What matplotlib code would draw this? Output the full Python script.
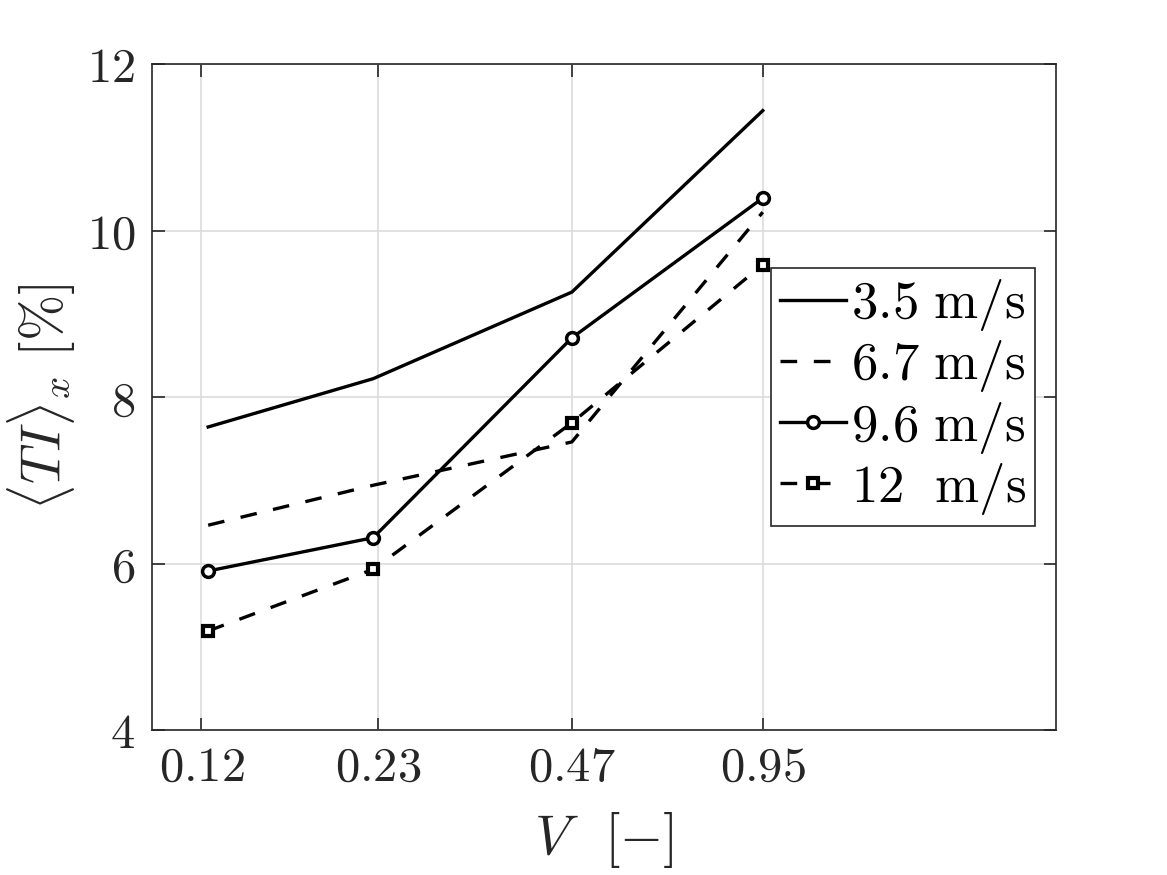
"""
Turbulence intensity versus V for several wind speeds
"""
import numpy as np
import matplotlib
matplotlib.use('Agg')
import matplotlib.pyplot as plt

# Data
V = [0.123, 0.226, 0.47, 0.95]
TI_35 = [7.64, 8.22, 9.26, 11.44]
TI_67 = [6.46, 6.94, 7.46, 10.22]
TI_96 = [5.91, 6.31, 8.71, 10.39]
TI_12 = [5.19, 5.93, 7.69, 9.59]

xticks = [0.12, 0.23, 0.47, 0.95]
xticklabels = ['0.12', '0.23', '0.47', '0.95']
yticks = [4, 6, 8, 10, 12]
labels = [r'$3.5\ \mathrm{m/s}$', r'$6.7\ \mathrm{m/s}$',
          r'$9.6\ \mathrm{m/s}$', r'$12\ \ \mathrm{m/s}$']

# Some settings
plt.rcParams['mathtext.fontset'] = 'cm'
plt.rcParams['font.family'] = 'serif'
txtcol = '#262626'
lw = 2.4
dash = (0, (5.0, 5.0))

fig = plt.figure(figsize=(11.67, 8.75), dpi=100)
ax = fig.add_axes([152/1167, 1 - 730/875, 904/1167, 666/875])

ax.plot(V, TI_35, color='k', lw=lw, label=labels[0])
ax.plot(V, TI_67, color='k', lw=lw, ls=dash, label=labels[1])
ax.plot(V, TI_96, color='k', lw=lw, marker='o', ms=8.5, mew=2.5,
        mfc='white', label=labels[2])
ax.plot(V, TI_12, color='k', lw=lw, ls=dash, marker='s', ms=6.5, mew=3.0,
        mfc='white', label=labels[3])

ax.set_xscale('log')
ax.set_xlim(0.1, 2.8)
ax.set_ylim(4, 12)
ax.set_xticks(xticks)
ax.set_xticklabels([r'$%s$' % t for t in xticklabels])
ax.minorticks_off()
ax.set_yticks(yticks)
ax.set_yticklabels([r'$%d$' % t for t in yticks])

ax.grid(True, color='#dcdcdc', lw=1.2)
ax.set_axisbelow(True)
ax.tick_params(direction='in', length=9, width=1.2, top=True, right=True,
               labelsize=35, colors=txtcol)
ax.tick_params(axis='x', pad=10)
ax.tick_params(axis='y', pad=12)
for s in ax.spines.values():
    s.set_color(txtcol)
    s.set_linewidth(1.2)

ax.set_xlabel(r'$V\enspace\;[-]$', fontsize=40, color=txtcol, labelpad=14)
ax.set_ylabel(r'$\langle TI\rangle_x\ [\%]$', fontsize=40, color=txtcol,
              labelpad=6)

leg = ax.legend(loc='center right', bbox_to_anchor=(0.977, 0.5),
                borderaxespad=0, fontsize=38, handlelength=1.25,
                handletextpad=0.08, labelspacing=0.1, borderpad=0.18,
                fancybox=False, framealpha=1, edgecolor=txtcol)
leg.get_frame().set_linewidth(1.2)

plt.savefig('out.png', dpi=100)
